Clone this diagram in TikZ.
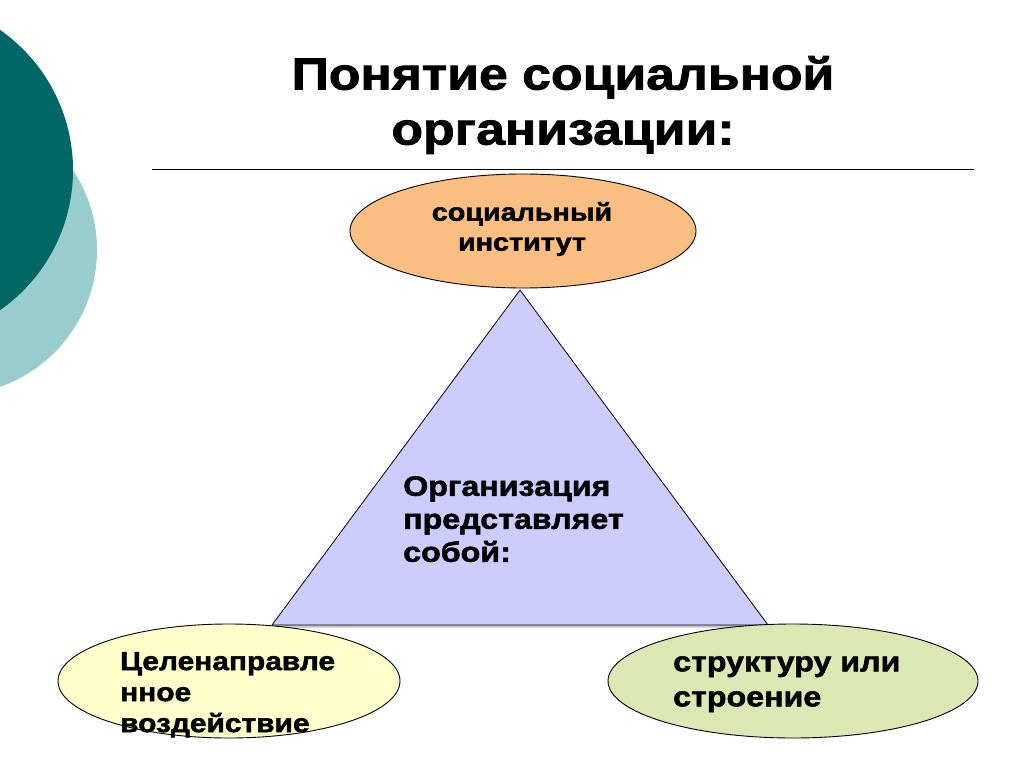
\documentclass[tikz,border=0pt]{standalone}
\usepackage{fontspec}
\setmainfont{Liberation Sans}
\newfontfamily\heavyfont[FakeStretch=1.15,FakeBold=1.8]{Liberation Sans Bold}
\usetikzlibrary{shapes.geometric,shadows}

\definecolor{tealdark}{RGB}{0,102,102}
\definecolor{teallight}{RGB}{153,204,204}
\definecolor{ovalorange}{RGB}{250,190,128}
\definecolor{ovalyellow}{RGB}{255,255,204}
\definecolor{ovalgreen}{RGB}{220,232,180}
\definecolor{trililac}{RGB}{204,204,255}

\begin{document}
\begin{tikzpicture}[x=1pt,y=-1pt,
	oval/.style={ellipse,draw=black,line width=0.9pt,inner sep=0pt},
	ovaltext/.style={font=\heavyfont\fontsize{28}{32}\selectfont,align=left,inner sep=0pt}]
	\useasboundingbox (0,0) rectangle (1024,767);
	% circles on the left
	\fill[teallight] (-48,250) circle(145pt);
	\fill[tealdark] (-98,170) circle(171pt);
	% title
	\node[font=\heavyfont\fontsize{45}{55}\selectfont,align=center] (title) at (563,105) {Понятие социальной\\организации:};
	\coordinate (ruleL) at (152,169);
	\coordinate (ruleR) at (974,169);
	\draw[line width=0.8pt] (ruleL) -- (ruleR);
	% triangle
	\coordinate (apex) at (520,290);
	\coordinate (baseL) at (272,625);
	\coordinate (baseR) at (768,625);
	\filldraw[fill=trililac,draw=black,line width=0.8pt,
		drop shadow={shadow xshift=2pt,shadow yshift=-2.5pt,opacity=0.45,fill=gray}]
		(apex) -- (baseL) -- (baseR) -- cycle;
	\node[ovaltext,font=\heavyfont\fontsize{28}{33}\selectfont,anchor=north west] (triText) at (403,476) {Организация\\представляет\\собой:};
	% ovals
	\node[oval,fill=ovalorange,minimum width=346pt,minimum height=114pt] (topOval) at (523,231) {};
	\node[oval,fill=ovalyellow,minimum width=342pt,minimum height=114pt] (leftOval) at (229,681) {};
	\node[oval,fill=ovalgreen,minimum width=370pt,minimum height=114pt] (rightOval) at (793,681) {};
	\node[ovaltext,font=\heavyfont\fontsize{25}{30}\selectfont,align=center] (topText) at (522,229) {социальный\\институт};
	\node[ovaltext,font=\heavyfont\fontsize{26}{31}\selectfont,anchor=north west] (leftText) at (120,652) {Целенаправле\\нное\\воздействие};
	\node[ovaltext,font=\heavyfont\fontsize{28}{35}\selectfont,anchor=north west] (rightText) at (673,656) {структуру или\\строение};
\end{tikzpicture}
\end{document}
